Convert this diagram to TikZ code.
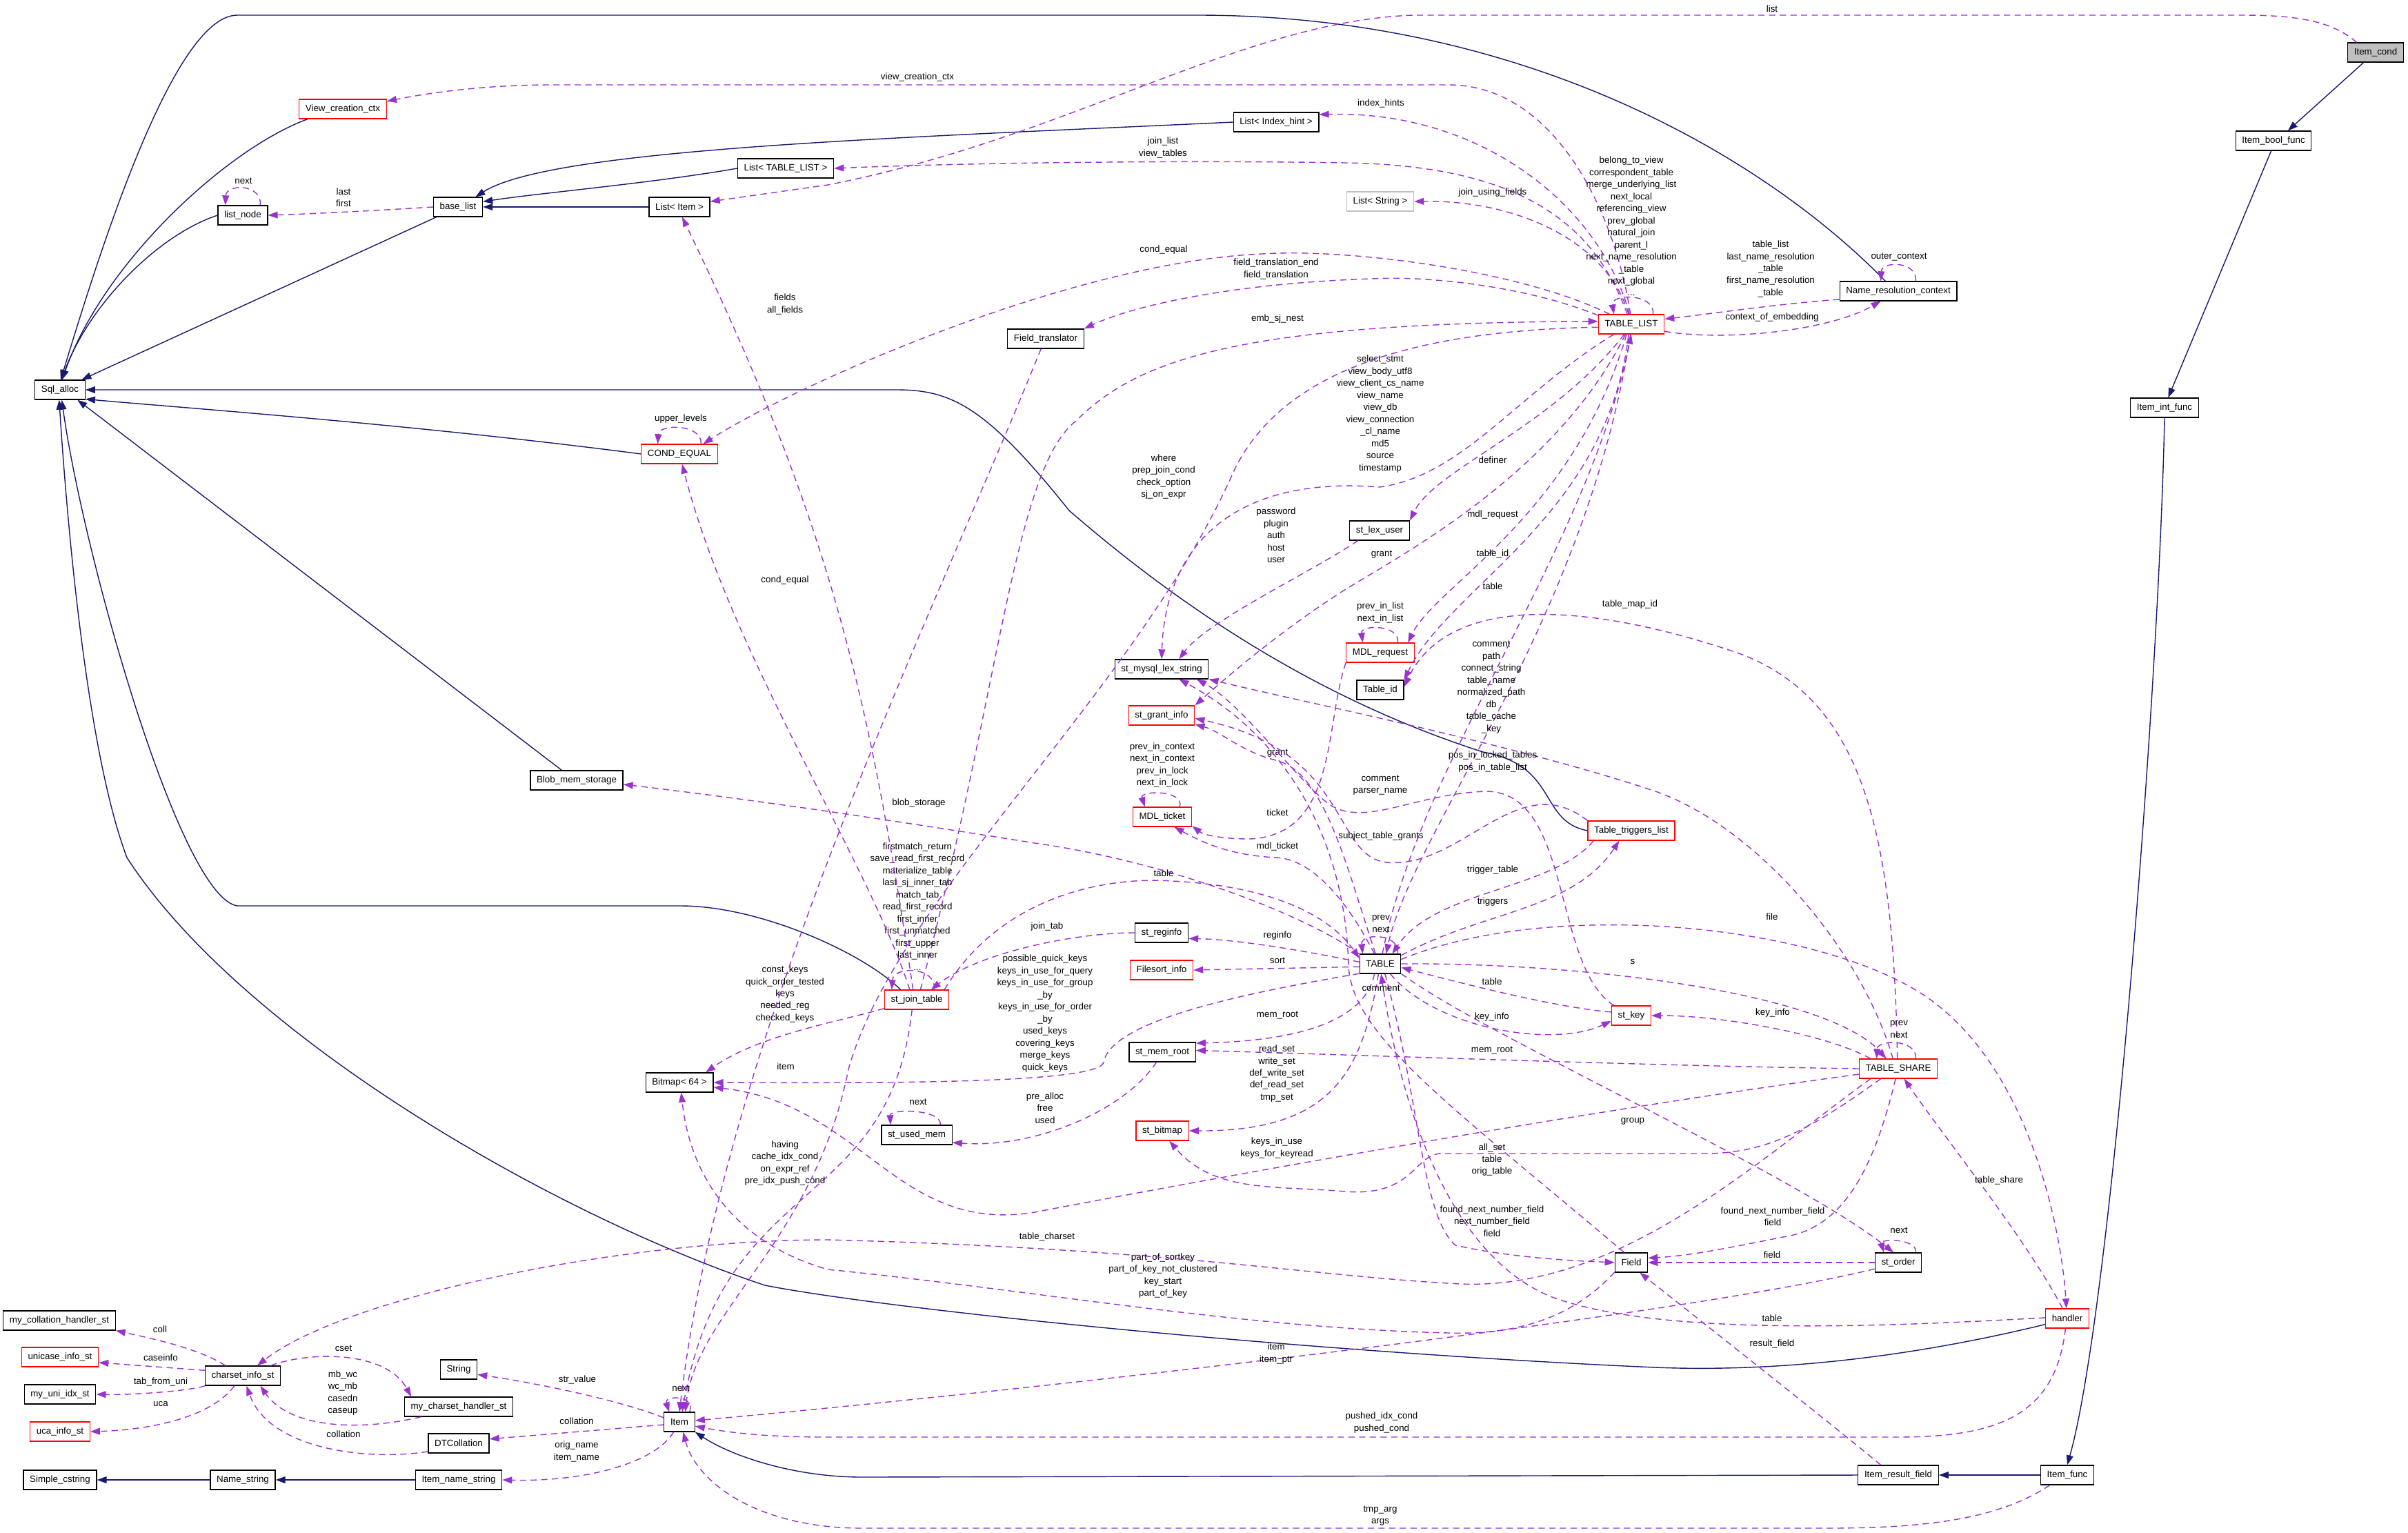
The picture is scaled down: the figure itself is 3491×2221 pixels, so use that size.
\documentclass[tikz,border=0pt]{standalone}
\usepackage{fontspec}
\setmainfont{Liberation Sans}
\usetikzlibrary{arrows.meta}
\definecolor{inheritblue}{HTML}{191970}
\definecolor{usepurple}{HTML}{9A32CD}
\definecolor{lightedge}{HTML}{BFBFBF}

\begin{document}
\begin{tikzpicture}[x=0.01cm, y=-0.01cm, font=\fontsize{3.8}{4.97}\selectfont, >={Triangle[length=4pt, width=2.8pt]},
  classbox/.style={rectangle, draw=black, fill=white, line width=0.35pt, minimum height=0.28cm, inner xsep=2.6pt, inner ysep=0pt},
  partialbox/.style={classbox, draw=red},
  rootbox/.style={classbox, fill=lightedge},
  fadedbox/.style={classbox, draw=lightedge},
  inherit/.style={->, draw=inheritblue, line width=0.4pt},
  uses/.style={->, draw=usepurple, line width=0.4pt, dash pattern=on 2.6pt off 1.8pt},
  edgelabel/.style={align=center, inner sep=0pt}]

\useasboundingbox (0,0) rectangle (3491,2221);

\node[rootbox] (itemcond) at (3444, 76) {Item\_cond};
\node[classbox] (itembool) at (3296, 204) {Item\_bool\_func};
\node[classbox] (itemint) at (3138, 591) {Item\_int\_func};
\node[classbox] (itemfunc) at (2997, 2138) {Item\_func};
\node[classbox] (itemrf) at (2752, 2138) {Item\_result\_field};
\node[classbox] (item) at (985, 2061) {Item};
\node[classbox] (nrc) at (2752, 422) {Name\_resolution\_context};
\node[partialbox] (tablelist) at (2365, 470) {TABLE\_LIST};
\node[classbox] (listhint) at (1850, 177) {List< Index\_hint >};
\node[fadedbox] (liststring) at (2001, 292) {List< String >};
\node[classbox] (listtl) at (1139, 244) {List< TABLE\_LIST >};
\node[classbox] (listitem) at (985, 300) {List< Item >};
\node[classbox] (baselist) at (664, 300) {base\_list};
\node[classbox] (listnode) at (352, 312) {list\_node};
\node[partialbox] (viewctx) at (497, 158) {View\_creation\_ctx};
\node[classbox] (sqlalloc) at (87, 565) {Sql\_alloc};
\node[partialbox] (condequal) at (985, 658) {COND\_EQUAL};
\node[classbox] (ftrans) at (1516, 491) {Field\_translator};
\node[classbox] (lexuser) at (2000, 769) {st\_lex\_user};
\node[partialbox] (mdlrequest) at (2001, 946) {MDL\_request};
\node[classbox] (tableid) at (2001, 1000) {Table\_id};
\node[classbox] (lexstring) at (1684, 970) {st\_mysql\_lex\_string};
\node[partialbox] (grantinfo) at (1684, 1037) {st\_grant\_info};
\node[partialbox] (mdlticket) at (1685, 1184) {MDL\_ticket};
\node[partialbox] (triggers) at (2365, 1204) {Table\_triggers\_list};
\node[classbox] (blobstore) at (836, 1131) {Blob\_mem\_storage};
\node[classbox] (table) at (2001, 1397) {TABLE};
\node[classbox] (reginfo) at (1684, 1352) {st\_reginfo};
\node[partialbox] (filesort) at (1684, 1406) {Filesort\_info};
\node[partialbox] (jointab) at (1329, 1449) {st\_join\_table};
\node[partialbox] (stkey) at (2365, 1472) {st\_key};
\node[partialbox] (tshare) at (2752, 1549) {TABLE\_SHARE};
\node[classbox] (memroot) at (1685, 1525) {st\_mem\_root};
\node[partialbox] (stbitmap) at (1685, 1639) {st\_bitmap};
\node[classbox] (usedmem) at (1329, 1645) {st\_used\_mem};
\node[classbox] (bitmap) at (985, 1569) {Bitmap< 64 >};
\node[classbox] (field) at (2365, 1830) {Field};
\node[classbox] (order) at (2752, 1830) {st\_order};
\node[partialbox] (handler) at (2997, 1911) {handler};
\node[classbox] (collhandler) at (86, 1914) {my\_collation\_handler\_st};
\node[partialbox] (unicase) at (87, 1967) {unicase\_info\_st};
\node[classbox] (uniidx) at (87, 2021) {my\_uni\_idx\_st};
\node[partialbox] (ucainfo) at (87, 2075) {uca\_info\_st};
\node[classbox] (charset) at (352, 1994) {charset\_info\_st};
\node[classbox] (string) at (665, 1985) {String};
\node[classbox] (cshandler) at (665, 2039) {my\_charset\_handler\_st};
\node[classbox] (dtcoll) at (665, 2092) {DTCollation};
\node[classbox] (simplecstr) at (87, 2145) {Simple\_cstring};
\node[classbox] (namestr) at (352, 2145) {Name\_string};
\node[classbox] (itemnamestr) at (665, 2145) {Item\_name\_string};

\draw[inherit] (viewctx.-164) .. controls (330, 215) and (150, 380) .. (sqlalloc.78);
\draw[inherit] (listnode.west) .. controls (230, 340) and (130, 440) .. (sqlalloc.82);
\draw[inherit] (baselist.-155) -- (sqlalloc.25);
\draw[inherit] (nrc.142) .. controls (2550, 220) and (2200, 22) .. (1736, 22) -- (344, 22) .. controls (250, 22) and (140, 380) .. (sqlalloc.86);
\draw[inherit] (listhint.west) .. controls (1300, 200) and (800, 215) .. (baselist.30);
\draw[inherit] (listtl.west) .. controls (950, 265) and (780, 280) .. (baselist.12);
\draw[inherit] (listitem.west) -- (baselist.east);
\draw[inherit] (triggers.west) .. controls (2230, 1190) and (2260, 1110) .. (2150, 1090) .. controls (1900, 1010) and (1700, 870) .. (1550, 740) .. controls (1430, 590) and (1380, 565) .. (1300, 565) -- (sqlalloc.east);
\draw[inherit] (condequal.west) .. controls (600, 615) and (250, 590) .. (sqlalloc.-20);
\draw[inherit] (blobstore.146) -- (sqlalloc.-30);
\draw[inherit] (jointab.148) .. controls (1250, 1380) and (1100, 1313) .. (987, 1313) -- (344, 1313) .. controls (260, 1300) and (120, 800) .. (sqlalloc.-80);
\draw[inherit] (handler.-165) .. controls (2800, 1960) and (2600, 1990) .. (2400, 1982) .. controls (1900, 1960) and (1300, 1900) .. (1109, 1863) .. controls (800, 1760) and (350, 1500) .. (184, 1243) .. controls (130, 1100) and (100, 800) .. (sqlalloc.-95);
\draw[inherit] (itemrf.west) -- (1250, 2141) .. controls (1150, 2141) and (1060, 2110) .. (item.south east);
\draw[inherit] (itemfunc.west) -- (itemrf.east);
\draw[inherit] (itemint.south) .. controls (3130, 1000) and (3060, 1900) .. (itemfunc.north);
\draw[inherit] (itembool.-103) -- (itemint.70);
\draw[inherit] (itemcond.-140) -- (itembool.35);
\draw[inherit] (namestr.west) -- (simplecstr.east);
\draw[inherit] (itemnamestr.west) -- (namestr.east);

\draw[uses] (itemcond.152) .. controls (3380, 30) and (3330, 22) .. (3250, 22) -- (2050, 22) .. controls (1800, 30) and (1550, 200) .. (1200, 268) -- (listitem.10) node[edgelabel] at (2569, 13) {list};
\draw[uses] (tablelist.95) .. controls (2340, 300) and (2250, 123) .. (2100, 123) -- (800, 123) .. controls (700, 123) and (620, 135) .. (viewctx.10) node[edgelabel] at (1330, 112) {view\_creation\_ctx};
\draw[uses] (tablelist.100) .. controls (2320, 300) and (2150, 160) .. (listhint.10) node[edgelabel] at (2002, 150) {index\_hints};
\draw[uses] (tablelist.112) .. controls (2310, 320) and (2200, 240) .. (1950, 236) .. controls (1700, 232) and (1400, 236) .. (listtl.east) node[edgelabel] at (1686, 214) {join\_list\\view\_tables};
\draw[uses] (tablelist.105) .. controls (2330, 350) and (2200, 290) .. (liststring.east) node[edgelabel] at (2164, 279) {join\_using\_fields};
\draw[uses] (tablelist.25) .. controls (2400, 425) and (2335, 425) .. (tablelist.150) node[edgelabel] at (2365, 328) {belong\_to\_view\\correspondent\_table\\merge\_underlying\_list\\next\_local\\referencing\_view\\prev\_global\\natural\_join\\parent\_l\\next\_name\_resolution\\\_table\\next\_global\\...};
\draw[uses] (nrc.-172) .. controls (2580, 440) and (2480, 455) .. (tablelist.9) node[edgelabel] at (2567, 390) {table\_list\\last\_name\_resolution\\\_table\\first\_name\_resolution\\\_table};
\draw[uses] (tablelist.-12) .. controls (2500, 495) and (2650, 480) .. (nrc.-150) node[edgelabel] at (2569, 460) {context\_of\_embedding};
\draw[uses] (nrc.30) .. controls (2780, 378) and (2728, 378) .. (nrc.150) node[edgelabel] at (2753, 373) {outer\_context};
\draw[uses] (tablelist.155) .. controls (2200, 390) and (1950, 360) .. (1830, 368) .. controls (1550, 380) and (1150, 560) .. (condequal.23) node[edgelabel] at (1687, 362) {cond\_equal};
\draw[uses] (condequal.25) .. controls (1018, 614) and (955, 614) .. (condequal.155) node[edgelabel] at (987, 607) {upper\_levels};
\draw[uses] (tablelist.165) .. controls (2200, 410) and (2050, 400) .. (1990, 404) .. controls (1800, 410) and (1650, 440) .. (ftrans.north east) node[edgelabel] at (1850, 390) {field\_translation\_end\\field\_translation};
\draw[uses] (jointab.70) .. controls (1450, 1000) and (1470, 680) .. (1560, 610) .. controls (1650, 520) and (1800, 468) .. (tablelist.175) node[edgelabel] at (1852, 462) {emb\_sj\_nest};
\draw[uses] (tablelist.-150) .. controls (2200, 570) and (2120, 690) .. (2000, 706) .. controls (1800, 690) and (1690, 780) .. (lexstring.north) node[edgelabel] at (2001, 600) {select\_stmt\\view\_body\_utf8\\view\_client\_cs\_name\\view\_name\\view\_db\\view\_connection\\\_cl\_name\\md5\\source\\timestamp};
\draw[uses] (lexuser.-155) .. controls (1900, 830) and (1750, 900) .. (lexstring.30) node[edgelabel] at (1850, 776) {password\\plugin\\auth\\host\\user};
\draw[uses] (tablelist.-125) .. controls (2250, 620) and (2080, 680) .. (lexuser.north east) node[edgelabel] at (2164, 667) {definer};
\draw[uses] (tablelist.-115) .. controls (2280, 750) and (2080, 850) .. (mdlrequest.20) node[edgelabel] at (2164, 746) {mdl\_request};
\draw[uses] (tablelist.-105) .. controls (2330, 750) and (2100, 850) .. (tableid.north east) node[edgelabel] at (2164, 803) {table\_id};
\draw[uses] (tablelist.-95) .. controls (2300, 900) and (2050, 1200) .. (table.60) node[edgelabel] at (2164, 850) {table};
\draw[uses] (tablelist.-120) .. controls (2250, 700) and (2000, 820) .. (1934, 865) .. controls (1850, 920) and (1780, 980) .. (grantinfo.north east) node[edgelabel] at (2003, 804) {grant};
\draw[uses] (mdlrequest.30) .. controls (2030, 905) and (1972, 905) .. (mdlrequest.150) node[edgelabel] at (2001, 888) {prev\_in\_list\\next\_in\_list};
\draw[uses] (table.115) .. controls (1950, 1250) and (1920, 1120) .. (1850, 1102) .. controls (1800, 1090) and (1770, 1060) .. (grantinfo.-15) node[edgelabel] at (1852, 1092) {grant};
\draw[uses] (triggers.north west) .. controls (2200, 1110) and (2120, 1260) .. (2010, 1250) .. controls (1930, 1240) and (1960, 1090) .. (grantinfo.-5) node[edgelabel] at (2002, 1212) {subject\_table\_grants};
\draw[uses] (mdlrequest.south west) .. controls (1920, 1050) and (1940, 1210) .. (1812, 1216) .. controls (1770, 1216) and (1745, 1210) .. (mdlticket.-17) node[edgelabel] at (1852, 1178) {ticket};
\draw[uses] (table.120) .. controls (1950, 1300) and (1900, 1245) .. (1850, 1243) .. controls (1790, 1240) and (1750, 1225) .. (mdlticket.-40) node[edgelabel] at (1852, 1227) {mdl\_ticket};
\draw[uses] (mdlticket.30) .. controls (1718, 1145) and (1652, 1145) .. (mdlticket.150) node[edgelabel] at (1685, 1109) {prev\_in\_context\\next\_in\_context\\prev\_in\_lock\\next\_in\_lock};
\draw[uses] (stkey.150) .. controls (2250, 1400) and (2280, 1150) .. (2156, 1147) .. controls (2050, 1150) and (1980, 1200) .. (1927, 1166) .. controls (1880, 1130) and (1800, 1020) .. (lexstring.-16) node[edgelabel] at (2001, 1138) {comment\\parser\_name};
\draw[uses] (tshare.118) .. controls (2700, 1380) and (2550, 1200) .. (2400, 1147) .. controls (2200, 1080) and (1900, 1020) .. (lexstring.-12) node[edgelabel] at (2162, 996) {comment\\path\\connect\_string\\table\_name\\normalized\_path\\db\\table\_cache\\\_key};
\draw[uses] (tshare.95) .. controls (2745, 1200) and (2700, 1000) .. (2500, 940) .. controls (2300, 875) and (2100, 860) .. (tableid.8) node[edgelabel] at (2363, 876) {table\_map\_id};
\draw[uses] (table.78) .. controls (2060, 1100) and (2300, 800) .. (tablelist.-90) node[edgelabel] at (2164, 1104) {pos\_in\_locked\_tables\\pos\_in\_table\_list};
\draw[uses] (triggers.-165) .. controls (2250, 1290) and (2080, 1290) .. (table.40) node[edgelabel] at (2164, 1261) {trigger\_table};
\draw[uses] (table.22) .. controls (2150, 1320) and (2280, 1320) .. (triggers.-140) node[edgelabel] at (2164, 1307) {triggers};
\draw[uses] (table.30) .. controls (2030, 1352) and (1972, 1352) .. (table.150) node[edgelabel] at (2002, 1339) {prev\\next};
\draw[uses] (jointab.20) .. controls (1450, 1300) and (1600, 1270) .. (1700, 1277) .. controls (1850, 1285) and (1930, 1330) .. (table.165) node[edgelabel] at (1687, 1266) {table};
\draw[uses] (reginfo.west) .. controls (1560, 1352) and (1420, 1380) .. (jointab.35) node[edgelabel] at (1518, 1343) {join\_tab};
\draw[uses] (table.175) .. controls (1900, 1380) and (1800, 1362) .. (reginfo.-12) node[edgelabel] at (1852, 1356) {reginfo};
\draw[uses] (table.-172) -- (filesort.east) node[edgelabel] at (1852, 1392) {sort};
\draw[uses] (table.155) .. controls (1900, 1330) and (1700, 1250) .. (1500, 1222) .. controls (1300, 1190) and (1100, 1160) .. (blobstore.-5) node[edgelabel] at (1332, 1164) {blob\_storage};
\draw[uses] (jointab.30) .. controls (1358, 1400) and (1295, 1400) .. (jointab.158) node[edgelabel] at (1330, 1314) {firstmatch\_return\\save\_read\_first\_record\\materialize\_table\\last\_sj\_inner\_tab\\match\_tab\\read\_first\_record\\first\_inner\\first\_unmatched\\first\_upper\\last\_inner\\...};
\draw[uses] (jointab.125) .. controls (1260, 1250) and (1060, 950) .. (condequal.-75) node[edgelabel] at (1138, 841) {cond\_equal};
\draw[uses] (jointab.110) .. controls (1260, 1000) and (1200, 750) .. (listitem.-75) node[edgelabel] at (1138, 441) {fields\\all\_fields};
\draw[uses] (jointab.-165) .. controls (1220, 1480) and (1100, 1500) .. (bitmap.21) node[edgelabel] at (1138, 1441) {const\_keys\\quick\_order\_tested\\keys\\needed\_reg\\checked\_keys};
\draw[uses] (jointab.-115) .. controls (1290, 1760) and (1050, 1700) .. (item.75) node[edgelabel] at (1138, 1686) {having\\cache\_idx\_cond\\on\_expr\_ref\\pre\_idx\_push\_cond};
\draw[uses] (ftrans.-115) .. controls (1350, 900) and (1050, 1500) .. (item.90) node[edgelabel] at (1139, 1546) {item};
\draw[uses] (tablelist.-175) .. controls (2000, 480) and (1850, 560) .. (1790, 680) .. controls (1650, 1000) and (1300, 1300) .. (1230, 1550) .. controls (1180, 1800) and (1010, 1900) .. (item.60) node[edgelabel] at (1687, 691) {where\\prep\_join\_cond\\check\_option\\sj\_on\_expr};
\draw[uses] (order.-165) .. controls (2450, 1905) and (1550, 2010) .. (item.5) node[edgelabel] at (1850, 1962) {item\\item\_ptr};
\draw[uses] (handler.-100) .. controls (2980, 2050) and (2900, 2083) .. (2750, 2083) -- (1200, 2083) .. controls (1100, 2083) and (1050, 2075) .. (item.-15) node[edgelabel] at (2003, 2062) {pushed\_idx\_cond\\pushed\_cond};
\draw[uses] (itemfunc.-150) .. controls (2900, 2200) and (2800, 2215) .. (2650, 2215) -- (1250, 2215) .. controls (1100, 2215) and (1010, 2150) .. (item.-70) node[edgelabel] at (2001, 2197) {tmp\_arg\\args};
\draw[uses] (item.45) .. controls (1010, 2022) and (962, 2022) .. (item.135) node[edgelabel] at (987, 2012) {next};
\draw[uses] (item.165) .. controls (900, 2030) and (780, 2005) .. (string.-15) node[edgelabel] at (837, 2000) {str\_value};
\draw[uses] (item.-170) -- (dtcoll.8) node[edgelabel] at (836, 2060) {collation};
\draw[uses] (item.-120) .. controls (950, 2120) and (850, 2148) .. (itemnamestr.east) node[edgelabel] at (836, 2104) {orig\_name\\item\_name};
\draw[uses] (field.-150) .. controls (2280, 1910) and (2200, 1935) .. (2100, 1932) .. controls (1800, 1925) and (1500, 1870) .. (1200, 1840) .. controls (1060, 1800) and (1000, 1700) .. (bitmap.-80) node[edgelabel] at (1686, 1849) {part\_of\_sortkey\\part\_of\_key\_not\_clustered\\key\_start\\part\_of\_key};
\draw[uses] (tshare.-172) .. controls (2300, 1610) and (1800, 1700) .. (1500, 1757) .. controls (1300, 1790) and (1250, 1600) .. (bitmap.-8) node[edgelabel] at (1851, 1664) {keys\_in\_use\\keys\_for\_keyread};
\draw[uses] (table.-155) .. controls (1800, 1440) and (1610, 1480) .. (1600, 1540) .. controls (1590, 1570) and (1300, 1570) .. (bitmap.east) node[edgelabel] at (1515, 1469) {possible\_quick\_keys\\keys\_in\_use\_for\_query\\keys\_in\_use\_for\_group\\\_by\\keys\_in\_use\_for\_order\\\_by\\used\_keys\\covering\_keys\\merge\_keys\\quick\_keys};
\draw[uses] (table.-120) .. controls (1975, 1500) and (1820, 1510) .. (memroot.15) node[edgelabel] at (1852, 1471) {mem\_root};
\draw[uses] (tshare.west) .. controls (2400, 1545) and (2000, 1530) .. (memroot.3) node[edgelabel] at (2163, 1522) {mem\_root};
\draw[uses] (table.-100) .. controls (1975, 1550) and (1935, 1640) .. (stbitmap.east) node[edgelabel] at (1851, 1556) {read\_set\\write\_set\\def\_write\_set\\def\_read\_set\\tmp\_set};
\draw[uses] (memroot.-120) .. controls (1630, 1610) and (1500, 1665) .. (usedmem.-12) node[edgelabel] at (1515, 1606) {pre\_alloc\\free\\used};
\draw[uses] (usedmem.23) .. controls (1365, 1607) and (1290, 1607) .. (usedmem.159) node[edgelabel] at (1331, 1597) {next};
\draw[uses] (tshare.-150) .. controls (2620, 1640) and (2560, 1672) .. (2470, 1672) -- (2090, 1672) .. controls (2050, 1672) and (2050, 1735) .. (1950, 1727) .. controls (1850, 1718) and (1760, 1730) .. (stbitmap.-55) node[edgelabel] at (2163, 1681) {all\_set\\table\\orig\_table};
\draw[uses] (table.-65) .. controls (2060, 1600) and (2060, 1760) .. (2110, 1805) .. controls (2200, 1825) and (2300, 1828) .. (field.west) node[edgelabel] at (2163, 1770) {found\_next\_number\_field\\next\_number\_field\\field};
\draw[uses] (tshare.-105) .. controls (2720, 1680) and (2680, 1770) .. (2600, 1790) .. controls (2500, 1810) and (2450, 1820) .. (field.15) node[edgelabel] at (2570, 1763) {found\_next\_number\_field\\field};
\draw[uses] (order.west) -- (field.east) node[edgelabel] at (2569, 1819) {field};
\draw[uses] (order.30) .. controls (2780, 1795) and (2725, 1795) .. (order.145) node[edgelabel] at (2753, 1783) {next};
\draw[uses] (table.-25) .. controls (2150, 1500) and (2600, 1700) .. (order.115) node[edgelabel] at (2367, 1625) {group};
\draw[uses] (handler.115) .. controls (2940, 1800) and (2820, 1650) .. (tshare.-60) node[edgelabel] at (2898, 1711) {table\_share};
\draw[uses] (table.12) .. controls (2250, 1300) and (2650, 1340) .. (2800, 1450) .. controls (2950, 1560) and (2990, 1800) .. (handler.95) node[edgelabel] at (2569, 1329) {file};
\draw[uses] (handler.178) .. controls (2700, 1925) and (2400, 1935) .. (2250, 1880) .. controls (2100, 1820) and (2030, 1600) .. (table.-85) node[edgelabel] at (2569, 1911) {table};
\draw[uses] (itemrf.150) .. controls (2650, 2060) and (2460, 1910) .. (field.-50) node[edgelabel] at (2569, 1948) {result\_field};
\draw[uses] (table.0) .. controls (2300, 1395) and (2650, 1440) .. (tshare.140) node[edgelabel] at (2367, 1394) {s};
\draw[uses] (stkey.170) .. controls (2250, 1460) and (2100, 1420) .. (table.-10) node[edgelabel] at (2163, 1423) {table};
\draw[uses] (table.-45) .. controls (2080, 1490) and (2250, 1520) .. (stkey.-165) node[edgelabel] at (2163, 1474) {key\_info};
\draw[uses] (tshare.160) .. controls (2650, 1500) and (2500, 1472) .. (stkey.east) node[edgelabel] at (2570, 1468) {key\_info};
\draw[uses] (tshare.30) .. controls (2780, 1506) and (2722, 1506) .. (tshare.155) node[edgelabel] at (2753, 1492) {prev\\next};
\draw[uses] (tshare.-160) .. controls (2550, 1680) and (2350, 1870) .. (2118, 1861) .. controls (1900, 1850) and (1700, 1810) .. (1200, 1797) .. controls (900, 1797) and (500, 1880) .. (charset.35) node[edgelabel] at (1518, 1793) {table\_charset};
\draw[uses] (field.125) .. controls (2100, 1600) and (1960, 1500) .. (1955, 1400) .. controls (1950, 1200) and (1850, 1060) .. (lexstring.-30) node[edgelabel] at (2002, 1432) {comment};
\draw[uses] (charset.150) .. controls (290, 1955) and (220, 1940) .. (collhandler.south east) node[edgelabel] at (232, 1927) {coll};
\draw[uses] (charset.172) -- (unicase.-8) node[edgelabel] at (233, 1968) {caseinfo};
\draw[uses] (charset.-165) .. controls (280, 2015) and (200, 2022) .. (uniidx.east) node[edgelabel] at (233, 2003) {tab\_from\_uni};
\draw[uses] (charset.-130) .. controls (310, 2050) and (230, 2072) .. (ucainfo.east) node[edgelabel] at (233, 2035) {uca};
\draw[uses] (charset.20) .. controls (450, 1958) and (560, 1958) .. (cshandler.168) node[edgelabel] at (498, 1954) {cset};
\draw[uses] (cshandler.-165) .. controls (520, 2075) and (420, 2070) .. (charset.-30) node[edgelabel] at (497, 2019) {mb\_wc\\wc\_mb\\casedn\\caseup};
\draw[uses] (dtcoll.-165) .. controls (530, 2118) and (390, 2100) .. (charset.-70) node[edgelabel] at (498, 2079) {collation};
\draw[uses] (baselist.west) .. controls (550, 305) and (450, 310) .. (listnode.east) node[edgelabel] at (498, 286) {last\\first};
\draw[uses] (listnode.30) .. controls (380, 266) and (328, 266) .. (listnode.150) node[edgelabel] at (353, 262) {next};
\end{tikzpicture}
\end{document}
